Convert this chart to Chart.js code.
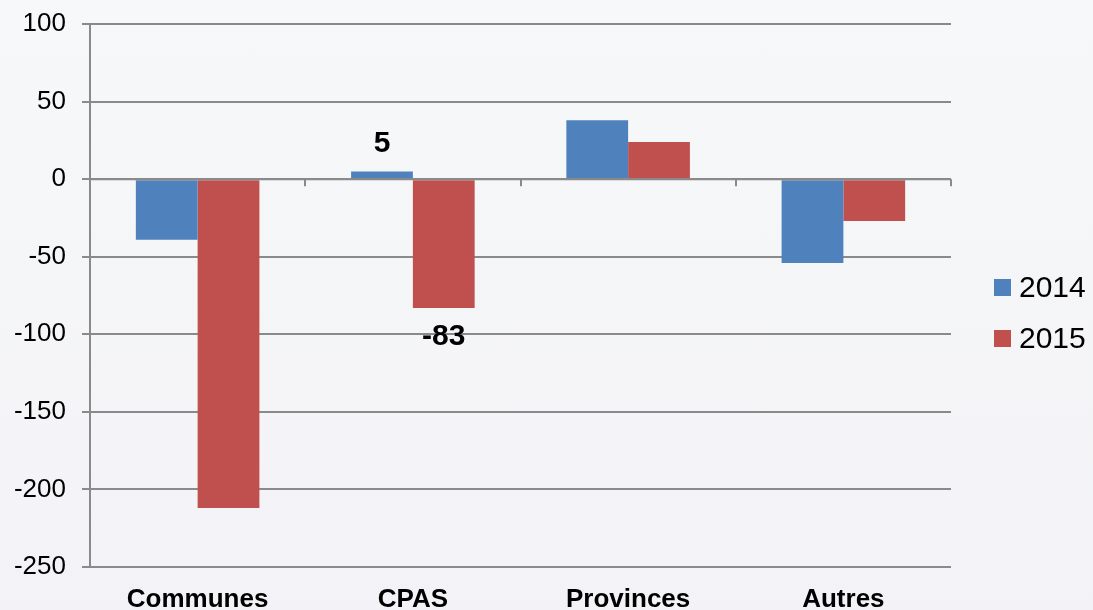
<!DOCTYPE html>
<html>
<head>
<meta charset="utf-8">
<script src="https://cdn.jsdelivr.net/npm/chart.js@4.4.1/dist/chart.umd.min.js"></script>
<style>
  html, body { margin: 0; padding: 0; }
  body { width: 1093px; height: 610px; background: linear-gradient(#f7f8f9, #f3f3f7); overflow: hidden; }
  #wrap { position: relative; width: 1093px; height: 610px; }
</style>
</head>
<body>
<div id="wrap"><canvas id="c"></canvas></div>
<script>
const categories = ['Communes', 'CPAS', 'Provinces', 'Autres'];
const series2014 = [-39, 5, 38, -54];
const series2015 = [-212, -83, 24, -27];
const seriesNames = ['2014', '2015'];
const seriesColors = ['#4f81bd', '#c0504d'];
const yMin = -250, yMax = 100, yStep = 50;
// which bars carry a value label: [datasetIndex, categoryIndex]
const labelledBars = [[0, 1], [1, 1]];

const gridColor = '#8a8a8a';
const FONT = '"Liberation Sans", Arial, sans-serif';

const extrasPlugin = {
  id: 'extras',
  afterDatasetsDraw(chart) {
    const ctx = chart.ctx;
    const x = chart.scales.x, y = chart.scales.y;
    const y0 = y.getPixelForValue(0);
    ctx.save();
    ctx.strokeStyle = gridColor;
    ctx.lineWidth = 2;
    ctx.beginPath();
    ctx.moveTo(x.left, y0); ctx.lineTo(x.right, y0);
    for (let i = 1; i <= categories.length; i++) {
      const px = Math.round(x.left + (x.right - x.left) * i / categories.length);
      ctx.moveTo(px, y0); ctx.lineTo(px, y0 + 7);
    }
    ctx.stroke();
    // value labels
    ctx.fillStyle = '#000';
    ctx.font = 'bold 30px ' + FONT;
    ctx.textAlign = 'center';
    labelledBars.forEach(([d, i]) => {
      const bar = chart.getDatasetMeta(d).data[i];
      const v = chart.data.datasets[d].data[i];
      if (v >= 0) {
        ctx.textBaseline = 'alphabetic';
        ctx.fillText(String(v), bar.x, bar.y - 19);
      } else {
        ctx.textBaseline = 'top';
        ctx.fillText(String(v), bar.x, bar.y + 14);
      }
    });
    // legend
    ctx.font = '30px ' + FONT;
    ctx.textAlign = 'left';
    ctx.textBaseline = 'middle';
    const lx = chart.chartArea.right + 43;
    const cy = chart.height / 2 + 8;
    chart.data.datasets.forEach((ds, k) => {
      const yy = cy + (k - 0.5) * 51;
      ctx.fillStyle = ds.backgroundColor;
      ctx.fillRect(lx, Math.round(yy - 8.5), 17, 17);
      ctx.fillStyle = '#000';
      ctx.fillText(ds.label, lx + 25, yy + 1);
    });
    ctx.restore();
  }
};

new Chart(document.getElementById('c'), {
  type: 'bar',
  data: {
    labels: categories,
    datasets: [
      { label: seriesNames[0], data: series2014, backgroundColor: seriesColors[0] },
      { label: seriesNames[1], data: series2015, backgroundColor: seriesColors[1] }
    ]
  },
  options: {
    responsive: true,
    maintainAspectRatio: false,
    animation: false,
    devicePixelRatio: 1,
    layout: { padding: { top: 0, right: 142, bottom: 0, left: 0 } },
    datasets: { bar: { categoryPercentage: 0.574, barPercentage: 1.0 } },
    plugins: {
      tooltip: { enabled: false },
      legend: { display: false }
    },
    scales: {
      x: {
        grid: { display: false, drawTicks: false },
        border: { display: false },
        ticks: { color: '#000', font: { family: FONT, size: 26, weight: 'bold' }, padding: 17 },
        afterFit(s) { s.height = 43; }
      },
      y: {
        min: yMin, max: yMax,
        ticks: { stepSize: yStep, color: '#000', font: { family: FONT, size: 26, lineHeight: 0.62 }, padding: 16 },
        grid: { color: gridColor, lineWidth: 2, tickLength: 8, drawTicks: true },
        border: { display: true, color: gridColor, width: 2 },
        afterFit(s) { s.width = 90; }
      }
    }
  },
  plugins: [extrasPlugin]
});
</script>
</body>
</html>
